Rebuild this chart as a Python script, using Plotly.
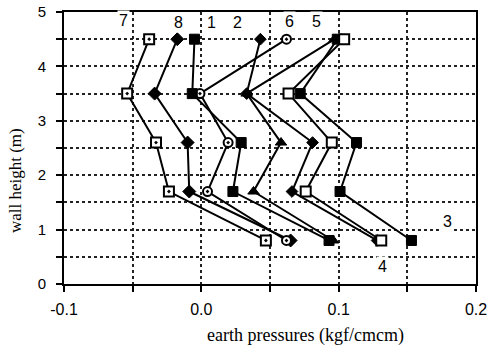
import plotly.graph_objects as go

heights = [4.5, 3.5, 2.6, 1.7, 0.8]

s1 = [-0.005, -0.0066, 0.029, 0.023, 0.093]
s2 = [0.043, 0.033, 0.081, 0.066, 0.128]
s3 = [0.099, 0.072, 0.113, 0.101, 0.153]
s4 = [0.104, 0.0635, 0.095, 0.076, 0.131]
s5 = [0.097, 0.033, 0.058, 0.038, 0.096]
s6 = [0.062, -0.001, 0.0195, 0.0045, 0.062]
s7 = [-0.038, -0.054, -0.033, -0.0236, 0.047]
s8 = [-0.0175, -0.034, -0.010, -0.0088, 0.065]

x_tickvals = [-0.1, -0.05, 0.0, 0.05, 0.1, 0.15, 0.2]
x_ticktext = ["-0.1", "", "0.0", "", "0.1", "", "0.2"]
y_tickvals = [0, 0.5, 1, 1.5, 2, 2.5, 3, 3.5, 4, 4.5, 5]
y_ticktext = ["0", "", "1", "", "2", "", "3", "", "4", "", "5"]

series_labels = ["7", "8", "1", "2", "6", "5", "3", "4"]
label_x = [-0.0564, -0.0164, 0.0074, 0.0265, 0.064, 0.0838, 0.179, 0.1316]
label_y = [4.85, 4.81, 4.81, 4.81, 4.83, 4.83, 1.15, 0.33]

fig = go.Figure()

styles = [
    (s7, dict(symbol="square-dot", size=10, color="white", line=dict(color="black", width=2))),
    (s8, dict(symbol="diamond", size=10, color="black", line=dict(color="black", width=1))),
    (s6, dict(symbol="circle-dot", size=9, color="white", line=dict(color="black", width=2))),
    (s1, dict(symbol="square", size=10, color="black", line=dict(color="black", width=1))),
    (s5, dict(symbol="triangle-up", size=10, color="black", line=dict(color="black", width=1))),
    (s2, dict(symbol="diamond", size=9, color="black", line=dict(color="black", width=1))),
    (s3, dict(symbol="square", size=10, color="black", line=dict(color="black", width=1))),
    (s4, dict(symbol="square", size=10, color="white", line=dict(color="black", width=2))),
]

for xs, mk in styles:
    fig.add_trace(go.Scatter(
        x=xs, y=heights, mode="lines+markers",
        line=dict(color="black", width=2),
        marker=mk, showlegend=False, cliponaxis=False,
    ))

for t, lx, ly in zip(series_labels, label_x, label_y):
    fig.add_annotation(x=lx, y=ly, xref="x", yref="y", text=t, showarrow=False,
                       xanchor="center", yanchor="middle",
                       font=dict(family="Liberation Sans", size=16, color="black"),
                       bgcolor="white", borderpad=1)

fig.add_annotation(x=0.585, y=-0.1875, xref="paper", yref="paper",
                   xanchor="center", yanchor="middle",
                   text="earth pressures (kgf/cmcm)", showarrow=False,
                   font=dict(family="Liberation Serif", size=18, color="black"))
fig.add_annotation(x=-0.119, y=0.382, xref="paper", yref="paper",
                   xanchor="center", yanchor="middle",
                   text="wall height (m)", showarrow=False, textangle=-90,
                   font=dict(family="Liberation Serif", size=17, color="black"))

grid = dict(showgrid=True, gridcolor="#222", gridwidth=1.5, griddash="dot")

fig.update_xaxes(range=[-0.1, 0.2], tickvals=x_tickvals, ticktext=x_ticktext,
                 ticks="outside", ticklen=6, tickwidth=2, tickcolor="black",
                 showline=True, linecolor="black", linewidth=2, mirror=True,
                 zeroline=False, automargin=False, ticklabelstandoff=4,
                 tickfont=dict(family="Liberation Sans", size=16, color="black"),
                 **grid)
fig.update_yaxes(range=[0, 5], tickvals=y_tickvals, ticktext=y_ticktext,
                 ticks="outside", ticklen=6, tickwidth=2, tickcolor="black",
                 showline=True, linecolor="black", linewidth=2, mirror=True,
                 zeroline=False, automargin=False, ticklabelstandoff=7,
                 tickfont=dict(family="Liberation Sans", size=15, color="black"),
                 **grid)

fig.update_layout(width=491, height=346, margin=dict(l=64, r=15, t=12, b=62),
                  plot_bgcolor="white", paper_bgcolor="white")

fig.write_html("out.html")
